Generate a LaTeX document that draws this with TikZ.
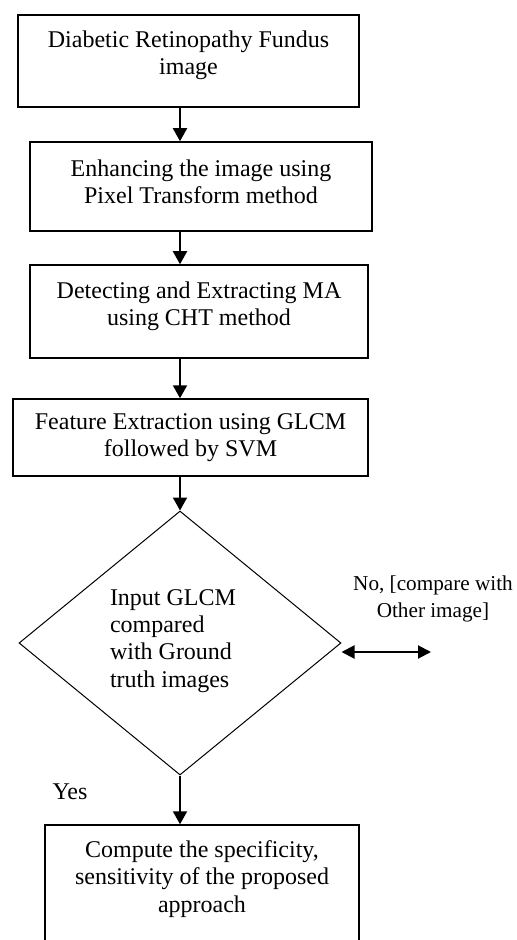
\documentclass[tikz,border=0pt]{standalone}
\usepackage{fontspec}
\setmainfont{Liberation Serif}
\usetikzlibrary{shapes.geometric}
\usetikzlibrary{arrows.meta}
\tikzset{
  procbox/.style={draw, line width=0.75pt, inner sep=0pt},
  decision/.style={diamond, draw, line width=0.5pt, inner sep=0pt},
  boxtext/.style={align=center, inner sep=0pt, font=\fontsize{12}{13.6}\selectfont},
  flow/.style={line width=1pt, -{Triangle[width=7pt,length=6.5pt]}},
  both flow/.style={line width=1pt, {Triangle[width=6.5pt,length=6.5pt]}-{Triangle[width=6.5pt,length=6.5pt]}},
}

\begin{document}
\begin{tikzpicture}[x=0.5pt, y=-0.5pt]
  \useasboundingbox (0,0) rectangle (517,940);
  \clip (0,0) rectangle (517,940);

  % Define nodes
  \node[procbox, minimum width=170.5pt, minimum height=46pt] (box1) at (188.5,61) {};
  \node[boxtext] (text1) at (188.5,55) {Diabetic Retinopathy Fundus\\image};

  \node[procbox, minimum width=171pt, minimum height=44.5pt] (box2) at (201,186.5) {};
  \node[boxtext] (text2) at (201,182) {Enhancing the image using\\Pixel Transform method};

  \node[procbox, minimum width=169pt, minimum height=46.5pt] (box3) at (199,311.5) {};
  \node[boxtext] (text3) at (199,306) {Detecting and Extracting MA\\using CHT method};

  \node[procbox, minimum width=177.5pt, minimum height=38.5pt] (box4) at (190.5,437.5) {};
  \node[boxtext] (text4) at (190.5,438) {Feature Extraction using GLCM\\followed by SVM};

  \node[decision, minimum width=161pt, minimum height=132pt] (dia) at (180,643) {};
  \node[boxtext, align=left] (diatext) at (173,641) {Input GLCM\\compared\\with Ground\\truth images};

  \node[procbox, minimum width=157pt, minimum height=65pt] (box6) at (202,890) {};
  \node[boxtext] (text6) at (202,879) {Compute the specificity,\\sensitivity of the proposed\\approach};

  \node[boxtext, font=\fontsize{10.6}{13.5}\selectfont] (no) at (433,599) {No, [compare with\\Other image]};
  \node[boxtext] (yes) at (70,792) {Yes};
  \coordinate (other) at (431,652);

  % Connect nodes
  \draw[flow] (box1.south -| dia.north) -- (box2.north -| dia.north);
  \draw[flow] (box2.south -| dia.north) -- (box3.north -| dia.north);
  \draw[flow] (box3.south -| dia.north) -- (box4.north -| dia.north);
  \draw[flow] (box4.south -| dia.north) -- (dia.north);
  \draw[flow] (dia.south) -- (box6.north -| dia.south);
  \draw[both flow] (dia.east |- other) -- (other);

\end{tikzpicture}
\end{document}
